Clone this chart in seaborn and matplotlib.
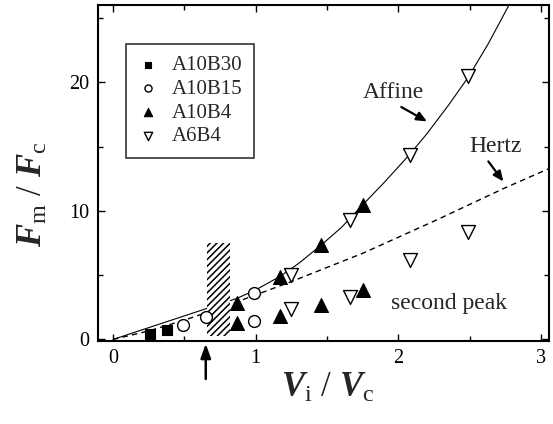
import numpy as np
import pandas as pd
import seaborn as sns
import matplotlib
matplotlib.use("Agg")
import matplotlib.pyplot as plt
from matplotlib.patches import Rectangle

# ---- data ----
a10b30_x = [0.26, 0.38]
a10b30_y = [0.45, 0.75]

a10b15_x = [0.49, 0.65, 0.99, 0.99]
a10b15_y = [1.13, 1.73, 3.58, 1.40]

a10b4_x = [0.87, 0.87, 1.17, 1.17, 1.46, 1.46, 1.75, 1.75]
a10b4_y = [2.85, 1.25, 4.89, 1.83, 7.35, 2.68, 10.47, 3.85]

a6b4_x = [1.25, 1.25, 1.66, 1.66, 2.08, 2.08, 2.49, 2.49]
a6b4_y = [5.02, 2.35, 9.30, 3.33, 14.36, 6.16, 20.50, 8.37]

affine_x = [0, 0.3, 0.6, 0.87, 1.0, 1.17, 1.3, 1.46, 1.6, 1.75, 1.9, 2.08, 2.2, 2.35, 2.49, 2.63, 2.77, 2.82]
affine_y = [0, 1.1, 2.2, 3.2, 3.85, 4.9, 5.9, 7.35, 8.7, 10.47, 12.2, 14.4, 16.0, 18.2, 20.4, 23.0, 25.9, 27.0]

hertz_x = [0, 0.25, 0.5, 0.75, 1.0, 1.25, 1.5, 1.75, 2.0, 2.25, 2.5, 2.75, 3.1]
hertz_y = [0, 0.66, 1.5, 2.45, 3.46, 4.5, 5.6, 6.7, 7.95, 9.2, 10.5, 11.8, 13.5]

series_names = ["A10B30", "A10B15", "A10B4", "A6B4"]

x_ticks = [0, 1, 2, 3]
y_ticks = [0, 10, 20]

# ---- style ----
sns.set_theme(style="ticks")
plt.rcParams["font.family"] = ["Liberation Serif", "DejaVu Serif"]
plt.rcParams["mathtext.fontset"] = "custom"
plt.rcParams["mathtext.it"] = "Liberation Serif:italic:bold"
plt.rcParams["mathtext.rm"] = "Liberation Serif"
plt.rcParams["mathtext.bf"] = "Liberation Serif:bold"
plt.rcParams["hatch.linewidth"] = 1.1

fig = plt.figure(figsize=(5.53, 4.24), dpi=100)
ax = fig.add_axes([98 / 553, 1 - 341 / 424, 451 / 553, 336 / 424])

# theory curves
sns.lineplot(x=affine_x, y=affine_y, ax=ax, color="black", lw=0.8, sort=False,
             legend=False, zorder=2)
sns.lineplot(x=hertz_x, y=hertz_y, ax=ax, color="black", lw=1.0, sort=False,
             legend=False, zorder=2, linestyle=(0, (4, 3)))

# hatched region
ax.add_patch(Rectangle((0.66, 0.27), 0.16, 7.2, facecolor="white", edgecolor="black",
                       hatch="/////", lw=0, zorder=3))

# data markers
sns.scatterplot(x=a10b30_x, y=a10b30_y, ax=ax, marker="s", s=7.5 ** 2, color="black",
                edgecolor="black", linewidth=0.8, label=series_names[0], zorder=4)
sns.scatterplot(x=a10b15_x, y=a10b15_y, ax=ax, marker="o", s=8.5 ** 2, facecolor="white",
                edgecolor="black", linewidth=1.0, label=series_names[1], zorder=4)
sns.scatterplot(x=a10b4_x, y=a10b4_y, ax=ax, marker="^", s=10 ** 2, color="black",
                edgecolor="black", linewidth=0.8, label=series_names[2], zorder=4)
sns.scatterplot(x=a6b4_x, y=a6b4_y, ax=ax, marker="v", s=10 ** 2, facecolor="white",
                edgecolor="black", linewidth=1.0, label=series_names[3], zorder=4)

ax.set_xlim(-0.105, 3.055)
ax.set_ylim(-0.12, 26.0)

ax.set_xticks(x_ticks)
ax.set_yticks(y_ticks)
ax.set_xticks([0.5, 1.5, 2.5], minor=True)
ax.set_yticks([5, 15, 25], minor=True)
ax.tick_params(which="both", direction="in", top=True, right=True, width=1.0,
               colors="black", labelsize=14.5, pad=6)
ax.tick_params(which="major", length=5)
ax.tick_params(which="minor", length=3.5)
for s in ax.spines.values():
    s.set_linewidth(1.5)
    s.set_color("black")

ax.set_xlabel(r"$V_{\mathrm{i}}\ \mathrm{/}\ V_{\mathrm{c}}$", fontsize=25)
ax.set_ylabel(r"$F_{\mathrm{m}}\ \mathrm{/}\ F_{\mathrm{c}}$", fontsize=25)
ax.xaxis.set_label_coords(0.51, -0.092)
ax.yaxis.set_label_coords(-0.106, 0.4375)

# annotations
ax.text(1.965, 18.77, "Affine", fontsize=17, ha="center", va="baseline")
ax.text(2.677, 14.61, "Hertz", fontsize=17, ha="center", va="baseline")
ax.text(2.357, 2.40, "second peak", fontsize=17, ha="center", va="baseline")
arrow_kw = dict(arrowstyle="-|>,head_length=0.5,head_width=0.22", color="black", lw=1.6,
                shrinkA=0, shrinkB=0)
ax.annotate("", xy=(2.20, 16.95), xytext=(2.02, 18.07), arrowprops=arrow_kw)
ax.annotate("", xy=(2.735, 12.28), xytext=(2.63, 13.84), arrowprops=arrow_kw)
ax.annotate("", xy=(0.65, -0.008), xytext=(0.65, -0.113),
            xycoords=("data", "axes fraction"), textcoords=("data", "axes fraction"),
            arrowprops=dict(arrowstyle="-|>,head_length=0.7,head_width=0.25", color="black",
                            lw=1.8, shrinkA=0, shrinkB=0), annotation_clip=False)

leg = ax.legend(loc="upper left", bbox_to_anchor=(0.062, 0.884), borderaxespad=0,
                fontsize=15, markerscale=0.6, handlelength=1.0, handletextpad=0.65,
                borderpad=0.55, labelspacing=0.2, frameon=True, fancybox=False)
leg.get_frame().set_edgecolor("black")
leg.get_frame().set_linewidth(1.2)

fig.savefig("out.png", dpi=100)
